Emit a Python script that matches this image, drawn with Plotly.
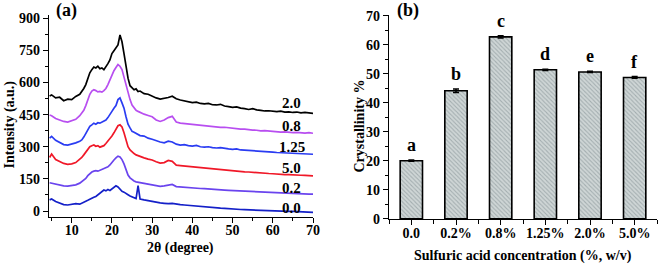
import plotly.graph_objects as go

# ---------------- data: panel (a) XRD ----------------
two_theta = [4.5, 5, 6, 7, 8, 9, 10, 11, 12,
             12.5, 13, 13.5, 14, 14.5, 15, 15.5, 16, 16.5, 17, 17.5, 18, 18.5, 19, 19.5,
             20, 20.5, 21, 21.5, 22, 22.5, 23, 23.5, 24, 24.5, 25, 25.5, 26, 26.5, 27,
             28, 29, 30, 31, 32, 33, 34, 35, 36, 37, 38, 39, 40, 41, 42, 43, 44, 45, 46,
             47, 48, 49, 50, 51, 52, 53, 54, 55, 56, 57, 58, 59, 60, 61, 62, 63, 64, 65,
             66, 67, 68, 69, 70]

xrd_2_0 = [537, 542, 528, 531, 515, 522, 520, 535, 545,
           556, 572, 590, 618, 645, 660, 672, 668, 676, 664, 668, 660, 672, 688, 705,
           735, 748, 762, 775, 822, 790, 735, 672, 620, 585, 575, 566, 570, 558, 560,
           548, 545, 536, 528, 522, 525, 530, 536, 524, 518, 515, 510, 506, 508, 502,
           500, 502, 496, 495, 498, 490, 487, 484, 486, 480, 478, 474, 478, 472, 470,
           467, 468, 466, 464, 466, 462, 463, 460, 462, 458, 460, 459, 456]
xrd_0_8 = [448, 445, 432, 425, 418, 415, 420, 428, 445,
           455, 470, 492, 520, 545, 560, 566, 562, 556, 558, 555, 562, 572, 590, 612,
           640, 655, 670, 684, 676, 660, 625, 590, 548, 520, 495, 480, 470, 465, 460,
           452, 446, 440, 425, 418, 425, 436, 442, 415, 410, 408, 405, 404, 402, 400,
           398, 396, 395, 393, 390, 391, 388, 386, 385, 382, 382, 379, 378, 377, 374,
           375, 373, 371, 370, 368, 369, 367, 366, 367, 365, 364, 366, 363]
xrd_1_25 = [340, 348, 330, 318, 310, 308, 312, 318, 326,
            332, 345, 362, 385, 395, 402, 410, 405, 412, 410, 416, 418, 425, 436, 448,
            465, 480, 492, 520, 528, 505, 480, 440, 405, 388, 372, 368, 362, 358, 352,
            350, 340, 335, 328, 322, 318, 326, 322, 312, 308, 310, 305, 303, 306, 300,
            298, 300, 296, 294, 296, 292, 290, 288, 290, 285, 284, 282, 283, 280, 278,
            277, 276, 275, 273, 272, 271, 270, 271, 268, 268, 266, 267, 265]
xrd_5_0 = [250, 266, 240, 232, 222, 218, 220, 226, 240,
           250, 262, 275, 292, 300, 305, 308, 302, 305, 298, 302, 305, 315, 326, 335,
           350, 365, 380, 398, 402, 392, 365, 330, 300, 285, 275, 268, 262, 258, 255,
           248, 242, 238, 230, 224, 226, 236, 232, 214, 212, 210, 208, 208, 205, 202,
           200, 200, 197, 195, 192, 193, 190, 188, 186, 185, 183, 182, 180, 179, 177,
           176, 175, 174, 172, 171, 170, 170, 168, 168, 167, 166, 166, 164]
xrd_0_2 = [132, 130, 125, 120, 117, 116, 118, 122, 130,
           136, 142, 152, 165, 175, 182, 186, 188, 186, 190, 194, 196, 200, 206, 215,
           228, 238, 248, 256, 252, 240, 220, 192, 168, 155, 145, 140, 136, 134, 132,
           128, 125, 122, 118, 115, 117, 122, 124, 114, 112, 110, 109, 107, 106, 105,
           104, 102, 101, 100, 98, 97, 96, 95, 94, 93, 92, 91, 90, 89, 88,
           87, 86, 85, 84, 84, 83, 82, 82, 81, 80, 80, 79, 79]
xrd_0_0 = [52, 56, 44, 38, 30, 28, 30, 34, 32,
           38, 40, 46, 50, 56, 60, 64, 68, 75, 82, 90, 98, 94, 100, 96,
           104, 108, 118, 112, 100, 92, 88, 80, 76, 70, 66, 62, 58, 118, 56,
           52, 48, 45, 42, 38, 36, 34, 36, 32, 30, 28, 26, 24, 22, 21,
           20, 18, 16, 15, 13, 12, 10, 9, 8, 7, 6, 5, 5, 4, 3,
           2, 2, 1, 0, 0, -1, -2, -2, -3, -4, -4, -5, -6]

curve_names = ["2.0", "0.8", "1.25", "5.0", "0.2", "0.0"]
curve_label_y = [504, 396, 298, 200, 107, 14]
curve_label_x = 64.7

# ---------------- data: panel (b) crystallinity ----------------
conc_labels = ["0.0", "0.2%", "0.8%", "1.25%", "2.0%", "5.0%"]
crystallinity = [20.0, 44.1, 62.7, 51.35, 50.6, 48.7]
cryst_err = [0.2, 0.6, 0.4, 0.2, 0.2, 0.3]
letters = ["a", "b", "c", "d", "e", "f"]

# ---------------- styling ----------------
FONT = "Liberation Serif"
W, H = 661, 265
curve_data = [xrd_2_0, xrd_0_8, xrd_1_25, xrd_5_0, xrd_0_2, xrd_0_0]
curve_colors = ["#000000", "#b84ef0", "#2a3cf2", "#f01828", "#6a44ee", "#1420c8"]

fig = go.Figure()

for name, ys, col in zip(curve_names, curve_data, curve_colors):
    fig.add_trace(go.Scatter(x=two_theta, y=ys, mode="lines", name=name,
                             line=dict(color=col, width=1.7), showlegend=False,
                             xaxis="x", yaxis="y"))

xpos = list(range(len(conc_labels)))
fig.add_trace(go.Bar(
    x=xpos, y=crystallinity, width=0.5, xaxis="x2", yaxis="y2", showlegend=False,
    marker=dict(color="#cdd4d4", line=dict(color="#000000", width=1.6),
                pattern=dict(shape="\\", fgcolor="#78868a", bgcolor="#cfd6d6",
                             size=3, solidity=0.35)),
    error_y=dict(type="data", array=cryst_err, color="#000000", thickness=1.6, width=3),
))

def bold(size):
    return dict(family=FONT, size=size, color="#000000", weight="bold")

annotations = []
for name, yv in zip(curve_names, curve_label_y):
    annotations.append(dict(x=curve_label_x, y=yv, xref="x", yref="y", text=name,
                            showarrow=False, xanchor="center", yanchor="middle", font=bold(15)))
for xi, (v, e, lt) in enumerate(zip(crystallinity, cryst_err, letters)):
    annotations.append(dict(x=xi, y=v + e, xref="x2", yref="y2", text=lt,
                            showarrow=False, xanchor="center", yanchor="bottom", yshift=3,
                            font=bold(18)))

# panel labels and axis titles, placed in pixel positions converted to paper coords
def paper_text(text, px, py, size, angle=0):
    return dict(x=px / W, y=1 - py / H, xref="paper", yref="paper", text=text,
                showarrow=False, xanchor="center", yanchor="middle", textangle=angle,
                font=bold(size))

annotations += [
    paper_text("(a)", 66, 10.5, 18),
    paper_text("(b)", 408, 11, 18),
    paper_text("Intensity (a.u.)", 9.5, 125, 14, -90),
    paper_text("2θ (degree)", 180, 248, 14),
    paper_text("Crystallinity %", 358.5, 126, 14, -90),
    paper_text("Sulfuric acid concentration (%, w/v)", 523, 256, 14),
]

tickfont = bold(14)
axis_common = dict(showgrid=False, zeroline=False, showline=True, linecolor="#000000",
                   linewidth=1.3, ticks="outside", ticklen=5, tickwidth=1.3,
                   tickcolor="#000000", tickfont=tickfont, mirror=False, automargin=False)

fig.update_layout(
    width=W, height=H,
    margin=dict(l=0, r=0, t=0, b=0),
    paper_bgcolor="#ffffff", plot_bgcolor="#ffffff",
    annotations=annotations,
    xaxis=dict(domain=[49 / W, 313 / W], range=[4.35, 70], tickvals=[10, 20, 30, 40, 50, 60, 70],
               minor=dict(ticks="outside", ticklen=3, dtick=5, tick0=0, tickcolor="#000000", tickwidth=1.2),
               ticklabelstandoff=-5, anchor="y", **axis_common),
    yaxis=dict(domain=[1 - 217 / H, 1 - 15 / H], range=[-28, 915],
               tickvals=[0, 150, 300, 450, 600, 750, 900],
               minor=dict(ticks="outside", ticklen=3, dtick=75, tick0=0, tickcolor="#000000", tickwidth=1.2),
               anchor="x", **axis_common),
    xaxis2=dict(domain=[389 / W, 657 / W], range=[-0.5, 5.5], tickvals=xpos, ticktext=conc_labels,
                minor=dict(ticks="outside", ticklen=4, dtick=0.5, tick0=0.5, tickcolor="#000000", tickwidth=1.2),
                ticklabelstandoff=-4, anchor="y2", **axis_common),
    yaxis2=dict(domain=[1 - 219 / H, 1 - 14.5 / H], range=[-0.1, 70.4],
                tickvals=[0, 10, 20, 30, 40, 50, 60, 70],
                minor=dict(ticks="outside", ticklen=3, dtick=5, tick0=0, tickcolor="#000000", tickwidth=1.2),
                anchor="x2", **axis_common),
)

fig.write_html("out.html", config={"displayModeBar": False},
               post_script="document.body.style.margin='0';document.body.style.padding='0';")
